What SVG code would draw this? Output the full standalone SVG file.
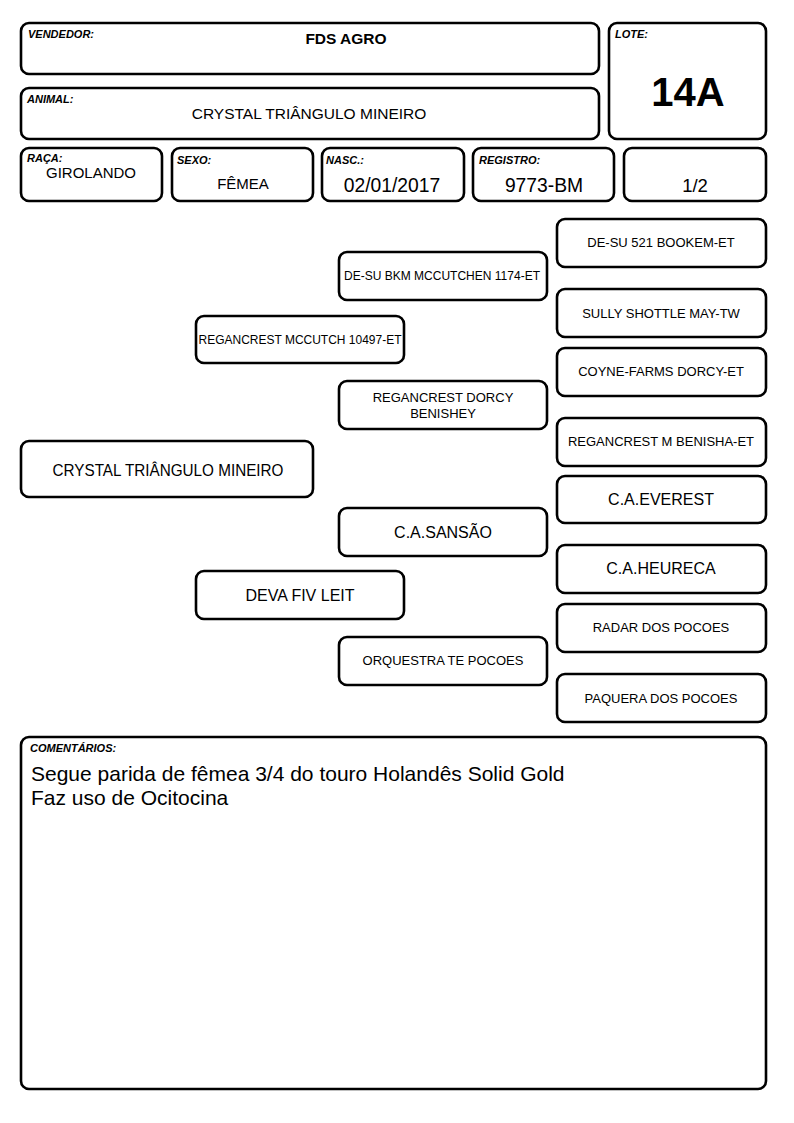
<svg xmlns="http://www.w3.org/2000/svg" width="794" height="1123" viewBox="0 0 794 1123">
<style>
.b{fill:#fff;stroke:#000;stroke-width:2.6}
.l{font-family:"Liberation Sans",Arial,sans-serif;font-size:11px;font-weight:bold;font-style:italic;fill:#000}
.v{font-family:"Liberation Sans",Arial,sans-serif;fill:#000;text-anchor:middle}
.p{font-family:"Liberation Sans",Arial,sans-serif;fill:#000;text-anchor:middle;font-size:13px}
</style>
<rect width="794" height="1123" fill="#fff"/>
<g id="vendedor"><rect class="b" x="21" y="23" width="578" height="51" rx="8"/><text class="l" x="28" y="38">VENDEDOR:</text><text class="v" x="346" y="44" font-size="15.5" font-weight="bold">FDS AGRO</text></g>
<g id="animal"><rect class="b" x="21" y="88" width="578" height="51" rx="8"/><text class="l" x="27" y="103">ANIMAL:</text><text class="v" x="309" y="119" font-size="15.5">CRYSTAL TRIÂNGULO MINEIRO</text></g>
<g id="lote"><rect class="b" x="609" y="23" width="157" height="116" rx="8"/><text class="l" x="615" y="38">LOTE:</text><text class="v" x="688" y="106" font-size="40" font-weight="bold">14A</text></g>
<g id="raca"><rect class="b" x="21" y="148" width="141" height="53" rx="8"/><text class="l" x="27" y="162">RAÇA:</text><text class="v" x="91" y="178" font-size="15">GIROLANDO</text></g>
<g id="sexo"><rect class="b" x="172" y="148" width="141" height="53" rx="8"/><text class="l" x="177" y="164">SEXO:</text><text class="v" x="243" y="189" font-size="15">FÊMEA</text></g>
<g id="nasc"><rect class="b" x="322" y="148" width="142" height="53" rx="8"/><text class="l" x="326" y="164">NASC.:</text><text class="v" x="392" y="192" font-size="19.3">02/01/2017</text></g>
<g id="registro"><rect class="b" x="473" y="148" width="141" height="53" rx="8"/><text class="l" x="479" y="164">REGISTRO:</text><text class="v" x="544" y="192" font-size="19.3">9773-BM</text></g>
<g id="parte"><rect class="b" x="624" y="148" width="142" height="53" rx="8"/><text class="v" x="695" y="192" font-size="18.5">1/2</text></g>

<g id="connectors"></g>

<g id="ped-animal"><rect class="b" x="21" y="441" width="292" height="56" rx="8"/><text class="v" x="168" y="476" font-size="16.5" textLength="231" lengthAdjust="spacingAndGlyphs">CRYSTAL TRIÂNGULO MINEIRO</text></g>
<g id="sire"><rect class="b" x="196" y="316" width="208" height="47" rx="8"/><text class="p" x="300" y="344" font-size="12.5" textLength="203" lengthAdjust="spacingAndGlyphs">REGANCREST MCCUTCH 10497-ET</text></g>
<g id="dam"><rect class="b" x="196" y="571" width="208" height="48" rx="8"/><text class="v" x="300" y="601" font-size="16">DEVA FIV LEIT</text></g>
<g id="ss"><rect class="b" x="339" y="252" width="208" height="48" rx="8"/><text class="p" x="442" y="280" font-size="12.5" textLength="196" lengthAdjust="spacingAndGlyphs">DE-SU BKM MCCUTCHEN 1174-ET</text></g>
<g id="sd"><rect class="b" x="339" y="381" width="208" height="48" rx="8"/><text class="p" x="443" y="402">REGANCREST DORCY</text><text class="p" x="443" y="418">BENISHEY</text></g>
<g id="ds"><rect class="b" x="339" y="508" width="208" height="48" rx="8"/><text class="v" x="443" y="538" font-size="16">C.A.SANSÃO</text></g>
<g id="dd"><rect class="b" x="339" y="637" width="208" height="48" rx="8"/><text class="p" x="443" y="665">ORQUESTRA TE POCOES</text></g>
<g id="sss"><rect class="b" x="557" y="219" width="209" height="48" rx="8"/><text class="p" x="661" y="247">DE-SU 521 BOOKEM-ET</text></g>
<g id="ssd"><rect class="b" x="557" y="289" width="209" height="48" rx="8"/><text class="p" x="661" y="318">SULLY SHOTTLE MAY-TW</text></g>
<g id="sds"><rect class="b" x="557" y="348" width="209" height="48" rx="8"/><text class="p" x="661" y="376">COYNE-FARMS DORCY-ET</text></g>
<g id="sdd"><rect class="b" x="557" y="418" width="209" height="48" rx="8"/><text class="p" x="661" y="446">REGANCREST M BENISHA-ET</text></g>
<g id="dss"><rect class="b" x="557" y="476" width="209" height="47" rx="8"/><text class="v" x="661" y="505" font-size="16">C.A.EVEREST</text></g>
<g id="dsd"><rect class="b" x="557" y="545" width="209" height="48" rx="8"/><text class="v" x="661" y="574" font-size="16">C.A.HEURECA</text></g>
<g id="dds"><rect class="b" x="557" y="604" width="209" height="48" rx="8"/><text class="p" x="661" y="632">RADAR DOS POCOES</text></g>
<g id="ddd"><rect class="b" x="557" y="674" width="209" height="48" rx="8"/><text class="p" x="661" y="703">PAQUERA DOS POCOES</text></g>

<g id="comentarios"><rect class="b" x="21" y="737" width="745" height="352" rx="8"/><text class="l" x="30" y="752">COMENTÁRIOS:</text>
<text font-family="'Liberation Sans',Arial,sans-serif" font-size="21" x="31" y="781">Segue parida de fêmea 3/4 do touro Holandês Solid Gold</text>
<text font-family="'Liberation Sans',Arial,sans-serif" font-size="21" x="31" y="805">Faz uso de Ocitocina</text></g>
</svg>
